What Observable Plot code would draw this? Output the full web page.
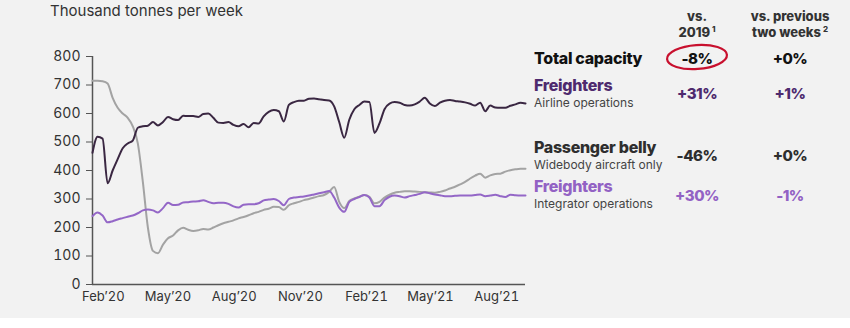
<!DOCTYPE html>
<html>
<head>
<meta charset="utf-8">
<script src="https://cdn.jsdelivr.net/npm/d3@7"></script>
<script src="https://cdn.jsdelivr.net/npm/@observablehq/plot@0.6"></script>
<style>
  html, body { margin: 0; padding: 0; background: #ffffff; }
  #wrap { position: relative; width: 850px; height: 318px; background: #f2f2f2; font-family: Inter, "Open Sans", sans-serif; color: #333; overflow: hidden; }
  #wrap svg { position: absolute; left: 0; top: 0; }
  .t { position: absolute; white-space: nowrap; line-height: 1; }
  .c { transform: translate(-50%, -50%); text-align: center; }
  .l { transform: translateY(-50%); }
</style>
</head>
<body>
<div id="wrap"></div>
<script>
// ---- Data (thousand tonnes per week, weekly) ----
const startDate = "2020-01-17";
const airline = [462,518,512,355,400,440,478,495,505,550,555,557,570,558,570,588,580,577,592,591,591,588,598,600,585,568,567,570,560,555,563,552,567,565,590,606,612,608,572,630,640,645,645,652,653,650,647,646,625,570,515,578,615,630,642,640,532,565,615,635,640,638,630,628,632,642,655,635,626,638,645,647,644,642,639,634,628,638,608,628,621,620,620,627,632,638,635];
const belly = [715,715,713,705,655,620,600,585,555,495,360,200,118,110,140,162,172,190,199,192,188,190,195,193,200,208,215,220,225,232,237,243,250,255,262,266,273,272,262,278,285,290,296,300,305,310,314,325,342,290,268,293,302,308,314,308,285,290,305,315,322,325,327,327,326,325,324,323,322,325,330,337,343,351,360,372,382,389,375,383,388,389,396,401,404,406,406];
const integrator = [240,253,242,218,222,228,233,238,242,250,260,263,260,253,268,287,279,280,288,289,291,292,296,290,285,287,287,283,274,270,280,282,282,285,295,298,300,293,278,300,305,307,309,312,316,320,324,328,305,270,255,290,300,307,314,305,275,275,296,308,312,310,305,310,314,318,324,320,316,313,310,310,311,312,312,312,314,316,310,312,315,310,307,315,313,312,312];

const seriesNames = ["Passenger belly", "Freighters (integrator)", "Freighters (airline)"];
const seriesColors = ["#a3a3a3", "#9467c7", "#3a2742"];

const yTicks = [0, 100, 200, 300, 400, 500, 600, 700, 800];
const xTickDates = ["2020-02-01", "2020-05-01", "2020-08-01", "2020-11-01", "2021-02-01", "2021-05-01", "2021-08-01"];
const xTickLabels = ["Feb\u201920", "May\u201920", "Aug\u201920", "Nov\u201920", "Feb\u201921", "May\u201921", "Aug\u201921"];

const title = "Thousand tonnes per week";
const colHeads = [["vs.", "2019", "1"], ["vs. previous", "two weeks", "2"]];
const rowLabels = ["Total capacity", "Freighters", "Passenger belly", "Freighters"];
const rowSubs = ["", "Airline operations", "Widebody aircraft only", "Integrator operations"];
const vs2019 = ["-8%", "+31%", "-46%", "+30%"];
const vsPrev = ["+0%", "+1%", "+0%", "-1%"];
const rowColors = ["#111111", "#4e2a6e", "#2e2e2e", "#9262c4"];

// ---- Build ----
const start = new Date(startDate + "T00:00:00Z");
const dateOf = i => d3.utcDay.offset(start, 7 * i);
const end = dateOf(airline.length - 1);
const rows = [];
[belly, integrator, airline].forEach((arr, s) => arr.forEach((v, i) => rows.push({date: dateOf(i), value: v, series: seriesNames[s]})));
const tickDates = xTickDates.map(d => new Date(d + "T00:00:00Z"));

const chart = Plot.plot({
  width: 850, height: 318,
  marginLeft: 92, marginRight: 325, marginTop: 56, marginBottom: 34,
  style: {background: "transparent", fontFamily: "Inter, sans-serif", color: "#333"},
  x: {type: "utc", domain: [start, end]},
  y: {domain: [0, 800]},
  color: {domain: seriesNames, range: seriesColors},
  marks: [
    Plot.axisY({ticks: yTicks, tickSize: 6, tickPadding: 6, label: null, fontSize: 14, stroke: "#555"}),
    Plot.axisX({ticks: tickDates, tickSize: 0, tickPadding: 7, label: null, fontSize: 13, tickFormat: (d, i) => xTickLabels[i]}),
    Plot.ruleX([start], {stroke: "#555", strokeWidth: 1.5}),
    Plot.ruleY([0], {stroke: "#555", strokeWidth: 1.5}),
    Plot.line(rows, {x: "date", y: "value", z: "series", stroke: "series", strokeWidth: 2, curve: "monotone-x"})
  ]
});

const wrap = document.getElementById("wrap");
wrap.appendChild(chart);

function addText(txt, x, y, cls, styles) {
  const d = document.createElement("div");
  d.className = "t " + cls;
  d.style.left = x + "px";
  d.style.top = y + "px";
  Object.assign(d.style, styles || {});
  d.innerHTML = txt;
  wrap.appendChild(d);
  return d;
}

addText(title, 50, 10, "l", {fontSize: "15px", color: "#333"});

const colX = [697, 790];
colHeads.forEach((h, j) => {
  addText(h[0], colX[j], 16, "c", {fontSize: "13px", fontWeight: "800", color: "#333"});
  addText(h[1] + "<sup style='font-size:8px;margin-left:2px'>" + h[2] + "</sup>", colX[j], 32, "c", {fontSize: "13px", fontWeight: "800", color: "#333"});
});

const labelY = [58, 85, 147, 186];
const subY = [0, 101.5, 163.5, 202.5];
const valY = [58, 93, 155, 195];
rowLabels.forEach((lab, i) => {
  addText(lab, 534, labelY[i], "l", {fontSize: "16px", fontWeight: "800", color: rowColors[i], letterSpacing: "-0.3px", lineHeight: "15px"});
  if (rowSubs[i]) addText(rowSubs[i], 534, subY[i], "l", {fontSize: "12px", color: "#444", lineHeight: "13px"});
  addText(vs2019[i], colX[0], valY[i], "c", {fontSize: "15px", fontWeight: "800", color: rowColors[i], letterSpacing: "-0.5px"});
  addText(vsPrev[i], colX[1], valY[i], "c", {fontSize: "15px", fontWeight: "800", color: rowColors[i], letterSpacing: "-0.5px"});
});

// red hand-drawn circle around the vs. 2019 total capacity value
const ov = d3.select(wrap).append("svg")
  .attr("width", 850).attr("height", 318)
  .style("position", "absolute").style("left", 0).style("top", 0).style("pointer-events", "none");
ov.append("ellipse")
  .attr("cx", 697).attr("cy", 57).attr("rx", 30).attr("ry", 12)
  .attr("transform", "rotate(-4 697 57)")
  .attr("fill", "none").attr("stroke", "#c8102e").attr("stroke-width", 2.2);
</script>
</body>
</html>
